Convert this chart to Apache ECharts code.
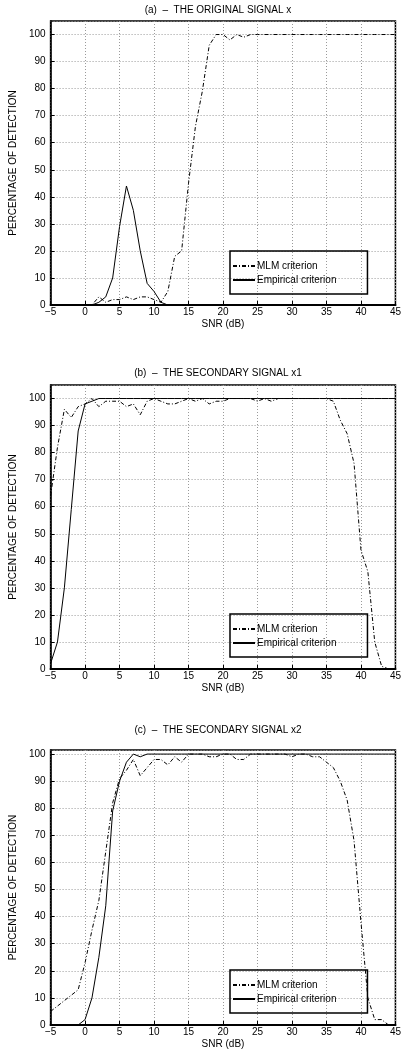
<!DOCTYPE html>
<html>
<head>
<meta charset="utf-8">
<script src="https://cdn.jsdelivr.net/npm/echarts@6.0.0/dist/echarts.min.js"></script>
<style>
  html, body { margin: 0; padding: 0; background: #fff; }
  #chart { width: 404px; height: 1053px; }
</style>
</head>
<body>
<div id="chart"></div>
<script>
// SNR values (dB), one point per dB
const snr = [-5, -4, -3, -2, -1, 0, 1, 2, 3, 4, 5, 6, 7, 8, 9, 10, 11, 12, 13, 14, 15, 16, 17, 18, 19, 20,
  21, 22, 23, 24, 25, 26, 27, 28, 29, 30, 31, 32, 33, 34, 35, 36, 37, 38, 39, 40, 41, 42, 43, 44, 45];

// (a) original signal x
const mlmA = [0, 0, 0, 0, 0, 0, 0, 3, 1, 2, 2, 3, 2, 3, 3, 2, 1, 5, 18, 20, 45, 66, 79, 96, 100, 100,
  98, 100, 99, 100, 100, 100, 100, 100, 100, 100, 100, 100, 100, 100, 100, 100, 100, 100, 100, 100, 100, 100, 100, 100, 100];
const empA = [0, 0, 0, 0, 0, 0, 0, 1, 3, 10, 29, 44, 35, 20, 8, 5, 1, 0, 0, 0, 0, 0, 0, 0, 0, 0,
  0, 0, 0, 0, 0, 0, 0, 0, 0, 0, 0, 0, 0, 0, 0, 0, 0, 0, 0, 0, 0, 0, 0, 0, 0];

// (b) secondary signal x1
const mlmB = [64, 82, 96, 93, 97, 98, 100, 97, 99, 99, 99, 97, 98, 94, 99, 100, 99, 98, 98, 99, 100, 99, 100, 98, 99, 99,
  100, 100, 100, 100, 99, 100, 99, 100, 100, 100, 100, 100, 100, 100, 100, 99, 92, 87, 76, 44, 36, 10, 1, 0, 0];
const empB = [2, 10, 30, 59, 88, 98, 99, 100, 100, 100, 100, 100, 100, 100, 100, 100, 100, 100, 100, 100, 100, 100, 100, 100, 100, 100,
  100, 100, 100, 100, 100, 100, 100, 100, 100, 100, 100, 100, 100, 100, 100, 100, 100, 100, 100, 100, 100, 100, 100, 100, 100];

// (c) secondary signal x2
const mlmC = [5, 7, 9, 11, 13, 23, 35, 46, 64, 82, 91, 94, 98, 92, 95, 98, 98, 96, 99, 97, 100, 100, 100, 99, 99, 100,
  100, 98, 98, 100, 100, 100, 100, 100, 100, 99, 100, 100, 99, 99, 97, 95, 90, 83, 68, 38, 10, 2, 2, 0, 0];
const empC = [0, 0, 0, 0, 0, 2, 10, 25, 44, 79, 90, 97, 100, 99, 100, 100, 100, 100, 100, 100, 100, 100, 100, 100, 100, 100,
  100, 100, 100, 100, 100, 100, 100, 100, 100, 100, 100, 100, 100, 100, 100, 100, 100, 100, 100, 100, 100, 100, 100, 100, 100];

const panelTitles = ['(a)  \u2013  THE ORIGINAL SIGNAL x', '(b)  \u2013  THE SECONDARY SIGNAL x1', '(c)  \u2013  THE SECONDARY SIGNAL x2'];
const seriesNames = ['MLM criterion', 'Empirical criterion'];
const xTicks = [-5, 0, 5, 10, 15, 20, 25, 30, 35, 40, 45];
const yTicks = [0, 10, 20, 30, 40, 50, 60, 70, 80, 90, 100];

const mlmData = [mlmA, mlmB, mlmC];
const empData = [empA, empB, empC];

// layout of the three panels
const gridTop = [21, 385, 750];
const gridHeight = [284, 284, 275];
const yMax = [105, 105, 101.5];
const titleTop = [5, 368, 725];
const legendTop = [251, 614, 970];

const font = 'Liberation Sans, Arial, Helvetica, sans-serif';
const dashDot = [4, 2, 1, 2];

const pairs = (ys) => snr.map((x, i) => [x, ys[i]]);

const chart = echarts.init(document.getElementById('chart'), null, { renderer: 'canvas' });

const option = {
  animation: false,
  textStyle: { fontFamily: font },
  title: [],
  legend: [],
  grid: [],
  xAxis: [],
  yAxis: [],
  series: []
};

for (let i = 0; i < 3; i++) {
  option.title.push({
    text: panelTitles[i],
    left: 218,
    top: titleTop[i],
    textAlign: 'center',
    padding: 0,
    textStyle: { fontFamily: font, fontSize: 10, fontWeight: 'normal', color: '#000' }
  });

  option.grid.push({
    left: 38,
    width: 360,
    top: gridTop[i],
    height: gridHeight[i],
    show: true,
    borderColor: '#000',
    borderWidth: 1.5
  });

  option.legend.push({
    data: seriesNames,
    orient: 'vertical',
    left: 230,
    top: legendTop[i],
    padding: [10, 31, 9, 2],
    itemWidth: 22,
    itemHeight: 10,
    itemGap: 4,
    selectedMode: false,
    itemStyle: { opacity: 0 },
    borderColor: '#000',
    borderWidth: 1.5,
    textStyle: { fontFamily: font, fontSize: 10, color: '#000', padding: [0, 0, 0, -3] }
  });

  option.xAxis.push({
    type: 'value',
    gridIndex: i,
    min: xTicks[0],
    max: xTicks[xTicks.length - 1],
    interval: 5,
    name: 'SNR (dB)',
    nameLocation: 'middle',
    nameGap: 14,
    nameTextStyle: { fontFamily: font, fontSize: 10, color: '#000' },
    axisLine: { onZero: false, lineStyle: { color: '#000', width: 2 } },
    axisTick: { inside: true, length: 4, lineStyle: { color: '#000' } },
    axisLabel: {
      fontFamily: font,
      fontSize: 10,
      color: '#000',
      margin: 2,
      formatter: (v) => String(v).replace('-', '\u2212')
    },
    splitLine: { show: true, lineStyle: { color: '#9a9a9a', type: [1, 2], width: 1 } }
  });

  option.yAxis.push({
    type: 'value',
    gridIndex: i,
    min: yTicks[0],
    max: yMax[i],
    interval: 10,
    name: 'PERCENTAGE OF DETECTION',
    nameLocation: 'middle',
    nameGap: 21,
    nameTextStyle: { fontFamily: font, fontSize: 10, color: '#000' },
    axisLine: { show: true, onZero: false, lineStyle: { color: '#000', width: 1.5 } },
    axisTick: { show: true, inside: true, length: 4, lineStyle: { color: '#000' } },
    axisLabel: {
      fontFamily: font,
      fontSize: 10,
      color: '#000',
      margin: 5,
      showMaxLabel: false,
      formatter: (v) => (yTicks.indexOf(v) >= 0 ? String(v) : '')
    },
    splitLine: { show: true, lineStyle: { color: '#9a9a9a', type: [1, 2], width: 1 } }
  });

  option.series.push({
    name: seriesNames[0],
    type: 'line',
    xAxisIndex: i,
    yAxisIndex: i,
    symbol: 'none',
    data: pairs(mlmData[i]),
    itemStyle: { color: '#000' },
    lineStyle: { color: '#000', width: 1, type: dashDot }
  });

  option.series.push({
    name: seriesNames[1],
    type: 'line',
    xAxisIndex: i,
    yAxisIndex: i,
    symbol: 'none',
    data: pairs(empData[i]),
    itemStyle: { color: '#000' },
    lineStyle: { color: '#000', width: 1, type: 'solid' }
  });
}

chart.setOption(option);
</script>
</body>
</html>
